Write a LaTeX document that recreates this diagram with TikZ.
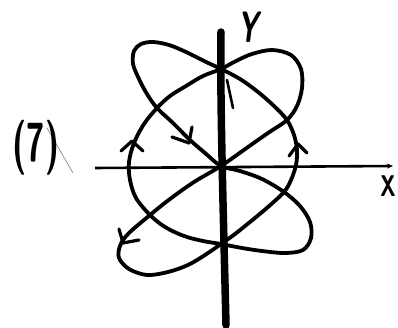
\documentclass[tikz,border=0pt]{standalone}
\usepackage{graphicx}
\usetikzlibrary{arrows.meta}
\begin{document}
\begin{tikzpicture}[x=1pt,y=-1pt,
  traj/.style={line width=3.8pt, line cap=round, line join=round},
  barb/.style={line width=3.2pt, line cap=round, line join=round},
  axisx/.style={line width=2.6pt, -{Stealth[length=6pt,width=5pt]}},
  axisy/.style={line width=7.5pt, line cap=round},
  lbl/.style={inner sep=0pt, font=\sffamily\bfseries}]
\useasboundingbox (0,0) rectangle (398,328);
% axes
\coordinate (xl) at (95,168);
\coordinate (xr) at (393,166);
\coordinate (ytop) at (221,32);
\coordinate (ybot) at (226,325);
\draw[axisx] (xl) -- (xr);
\draw[axisy] (ytop) .. controls (220,100) and (223,200) .. (ybot);
\coordinate (sp1) at (227,80);
\coordinate (sp2) at (233,108);
\draw[line width=2.6pt, line cap=round] (sp1) -- (sp2);
% trajectory
\draw[traj] plot[smooth cycle, tension=0.55] coordinates {
(221,166) (248,147) (268,133) (287,120) (297,106) (302,88) (301,69) (291,55) (272,50) (252,54) (236,61) (221,69)
(203,76) (186,86) (170,96) (157,108) (144,124) (134,143) (129,162) (130,180) (136,198) (150,215) (165,227) (184,236) (203,241) (221,244)
(242,248) (262,251) (285,253) (303,250) (311,238) (310,222) (300,206) (284,192) (262,179) (240,171) (221,166)
(205,153) (190,140) (173,123) (157,108) (147,94) (139,79) (133,64) (134,51) (141,44) (153,42) (169,45) (186,52) (204,61) (221,69)
(240,79) (258,92) (274,106) (287,120) (294,135) (297,150) (296,165) (291,180) (284,192) (268,207) (250,222) (235,234) (221,244)
(205,255) (188,265) (168,272) (147,275) (129,269) (119,258) (120,246) (128,234) (150,215) (170,199) (194,182)};
% arrow barbs
\coordinate (a1) at (189,143);
\draw[barb] (192,127) -- (a1) -- (172,137);
\coordinate (a2) at (132,141);
\draw[barb] (121,151) -- (a2) -- (143,151);
\coordinate (a3) at (298,144);
\draw[barb] (289,156) -- (a3) -- (307,153);
\coordinate (a4) at (123,243);
\draw[barb] (119,229) -- (a4) -- (139,240);
% faint scratch
\coordinate (s1) at (47,128);
\coordinate (s2) at (73,173);
\draw[line width=0.6pt, gray] (s1) -- (s2);
% labels
\node[lbl] (ylab) at (248,27) {\scalebox{0.62}[1]{\fontsize{44}{44}\selectfont\slshape Y}};
\node[lbl] (xlab) at (388,186) {\scalebox{0.7}[1]{\fontsize{30}{30}\selectfont X}};
\node[lbl] (num) at (36,148) {\scalebox{0.6}[1]{\fontsize{55}{55}\selectfont (7)}};
\end{tikzpicture}
\end{document}
